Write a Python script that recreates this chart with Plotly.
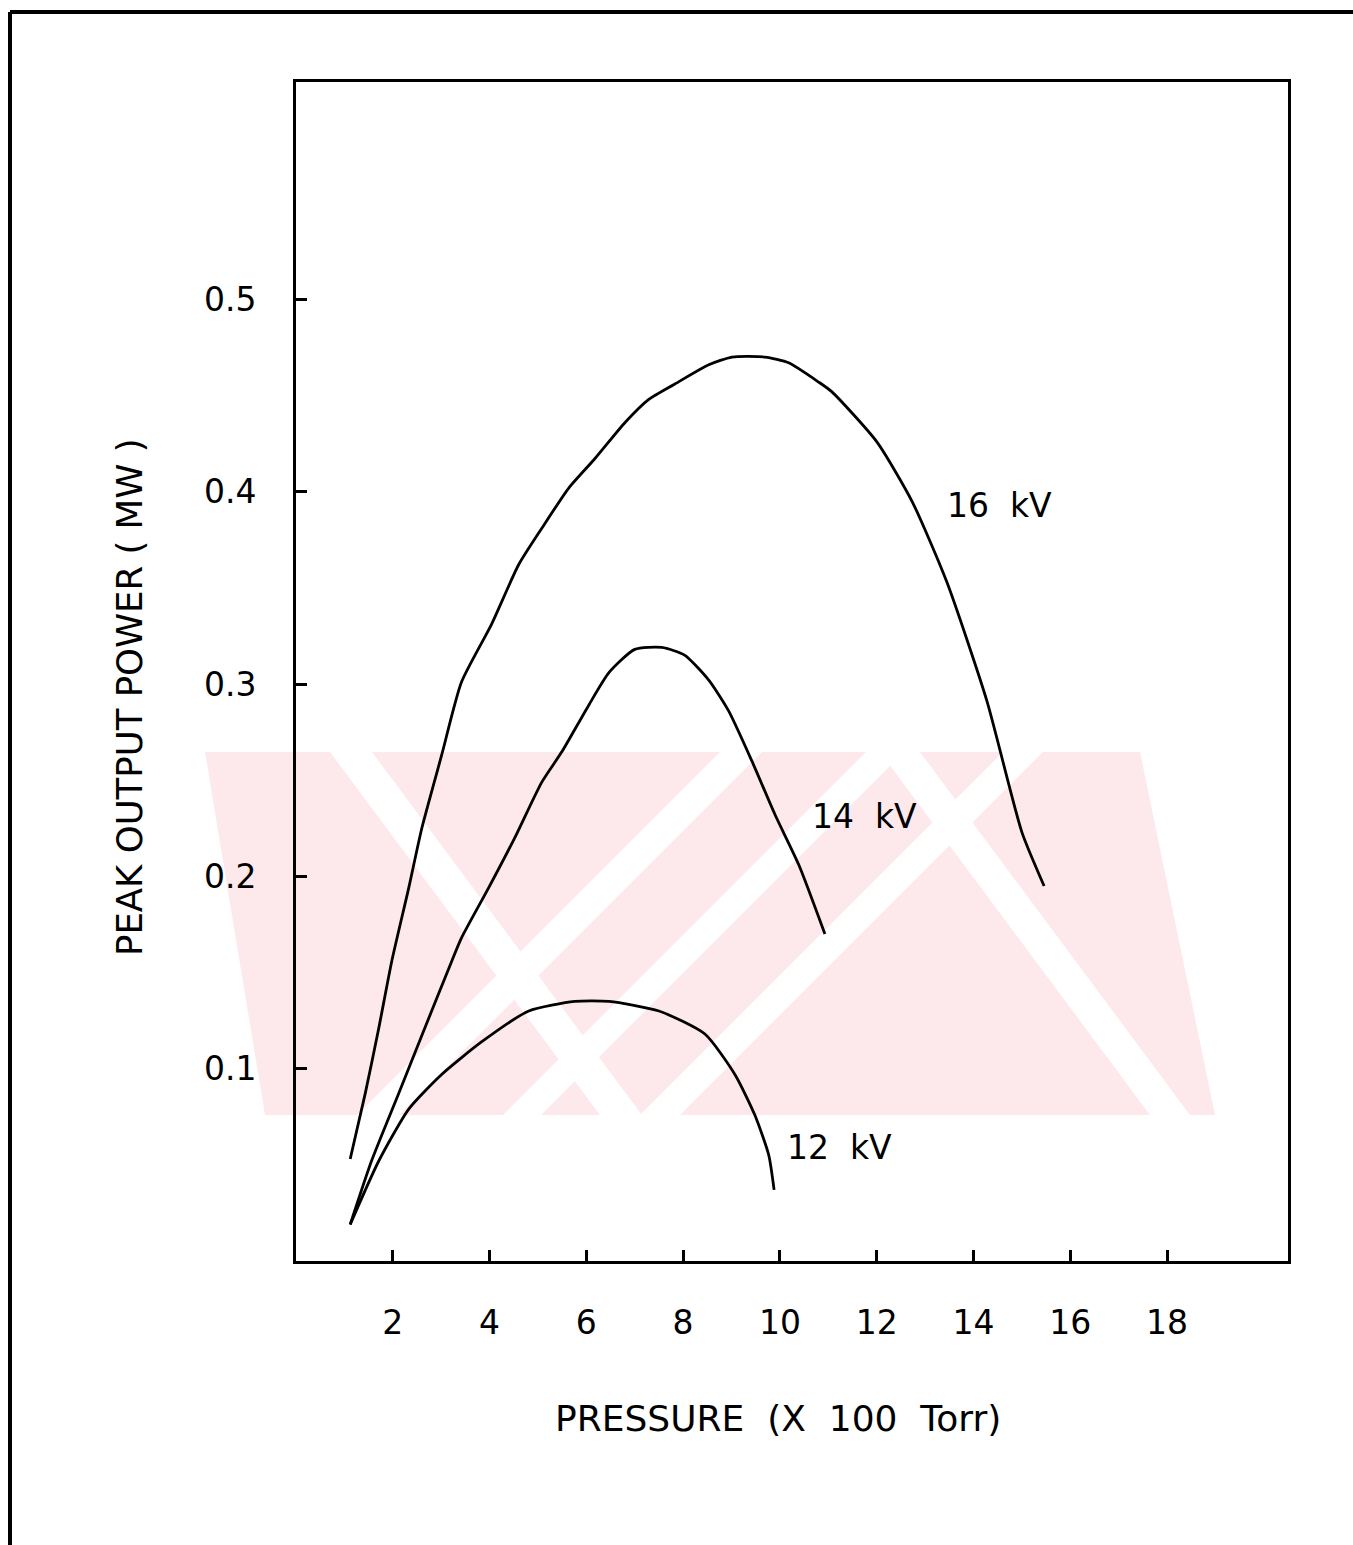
import plotly.graph_objects as go

# Pressure (x100 Torr) and peak output power (MW)
p16 = [1.12, 1.43, 1.71, 1.98, 2.33, 2.60, 3.01, 3.42, 4.04, 4.60, 5.08, 5.64, 6.17, 6.80, 7.29, 7.83,
       8.53, 9.01, 9.69, 10.18, 10.80, 11.07, 12.0, 12.73, 13.45, 14.28, 15.0, 15.46]
w16 = [0.053, 0.087, 0.121, 0.156, 0.194, 0.225, 0.263, 0.301, 0.331, 0.362, 0.381, 0.402, 0.417, 0.436,
       0.448, 0.456, 0.466, 0.470, 0.470, 0.467, 0.457, 0.452, 0.426, 0.395, 0.353, 0.291, 0.223, 0.195]

p14 = [1.12, 1.56, 2.12, 2.66, 3.22, 3.42, 3.98, 4.52, 5.08, 5.50, 6.05, 6.47, 7.0, 7.56, 8.03, 8.53,
       8.94, 9.42, 9.90, 10.39, 10.93]
w14 = [0.019, 0.052, 0.087, 0.121, 0.156, 0.168, 0.194, 0.220, 0.249, 0.265, 0.289, 0.306, 0.318, 0.319,
       0.315, 0.302, 0.286, 0.260, 0.232, 0.206, 0.170]

p12 = [1.12, 1.71, 2.33, 3.01, 3.84, 4.81, 5.76, 6.47, 7.50, 8.45, 9.07, 9.48, 9.77, 9.88]
w12 = [0.019, 0.052, 0.079, 0.097, 0.114, 0.130, 0.135, 0.135, 0.130, 0.118, 0.097, 0.076, 0.055, 0.037]

series = [("16 kV", p16, w16), ("14 kV", p14, w14), ("12 kV", p12, w12)]
label_pos = {"16 kV": (14.53, 0.393), "14 kV": (11.74, 0.231), "12 kV": (11.24, 0.059)}

x_ticks = [2, 4, 6, 8, 10, 12, 14, 16, 18]
y_ticks = [0.1, 0.2, 0.3, 0.4, 0.5]
y_tick_text = ["0.1", "0.2", "0.3", "0.4", "0.5"]

x_title = "PRESSURE (X 100 Torr)"
y_title = "PEAK OUTPUT POWER ( MW )"

FONT = "DejaVu Sans"
W, H = 1353, 1545
ML, MR, MT, MB = 296, 65, 82, 284
PW, PH = W - ML - MR, H - MT - MB


def paper(px, py):
    return (px - ML) / PW, (H - MB - py) / PH


def path(points):
    pts = [paper(px, py) for px, py in points]
    return "M " + " L ".join(f"{x:.5f},{y:.5f}" for x, y in pts) + " Z"


fig = go.Figure()

# faint pink watermark of the scanned page (decoration, not data)
WM_TOP, WM_BOT = 752, 1115
fig.add_shape(type="path", xref="paper", yref="paper", layer="below",
              path=path([(205, WM_TOP), (1140, WM_TOP), (1215, WM_BOT), (265, WM_BOT)]),
              fillcolor="#fde8ec", line=dict(width=0))
stripes = [((720, 762), (357, 399)), ((866, 904), (503, 541)), ((1003, 1043), (640, 680)),
           ((330, 372), (600, 642)), ((880, 920), (1150, 1190))]
for (t0, t1), (b0, b1) in stripes:
    fig.add_shape(type="path", xref="paper", yref="paper", layer="below",
                  path=path([(t0, WM_TOP), (t1, WM_TOP), (b1, WM_BOT), (b0, WM_BOT)]),
                  fillcolor="white", line=dict(width=0))

for name, xs, ys in series:
    fig.add_trace(go.Scatter(x=xs, y=ys, mode="lines", name=name,
                             line=dict(color="black", width=2.8, shape="spline", smoothing=0.6),
                             showlegend=False))
    lx, ly = label_pos[name]
    fig.add_annotation(x=lx, y=ly, text=name.replace(" ", "\u00a0\u00a0"), showarrow=False,
                       xanchor="center", yanchor="middle",
                       font=dict(family=FONT, size=33, color="black"))

# axis titles placed as in the scan
tx, ty = paper(778, 1418)
fig.add_annotation(xref="paper", yref="paper", x=tx, y=ty, xanchor="center", yanchor="middle",
                   text=x_title.replace(" ", "\u00a0\u00a0"), showarrow=False,
                   font=dict(family=FONT, size=36, color="black"))
tx, ty = paper(130, 697)
fig.add_annotation(xref="paper", yref="paper", x=tx, y=ty, xanchor="center", yanchor="middle",
                   text=y_title, textangle=-90, showarrow=False,
                   font=dict(family=FONT, size=35.5, color="black"))

# outer frame (top and left edges of the scanned page)
x0, y0 = paper(10, 12)
x1, _ = paper(1360, 12)
_, y1 = paper(10, 1550)
fig.add_shape(type="line", xref="paper", yref="paper", x0=x0, x1=x1, y0=y0, y1=y0,
              line=dict(color="black", width=4))
fig.add_shape(type="line", xref="paper", yref="paper", x0=x0, x1=x0, y0=y0, y1=y1,
              line=dict(color="black", width=4))

fig.update_layout(
    width=W, height=H,
    margin=dict(l=ML, r=MR, t=MT, b=MB),
    paper_bgcolor="white", plot_bgcolor="rgba(0,0,0,0)",
    font=dict(family=FONT, color="black"),
    xaxis=dict(range=[0, 20.5], tickvals=x_ticks, ticks="inside", ticklen=11, tickwidth=2.5,
               tickcolor="black", showline=True, linewidth=3, linecolor="black", mirror=True,
               showgrid=False, zeroline=False, tickfont=dict(size=33, family=FONT),
               ticklabelstandoff=30),
    yaxis=dict(range=[0, 0.613], tickvals=y_ticks, ticktext=y_tick_text, ticks="inside", ticklen=11,
               tickwidth=2.5, tickcolor="black", showline=True, linewidth=3, linecolor="black",
               mirror=True, showgrid=False, zeroline=False, tickfont=dict(size=33, family=FONT),
               ticklabelstandoff=30),
)

fig.write_html("out.html")
